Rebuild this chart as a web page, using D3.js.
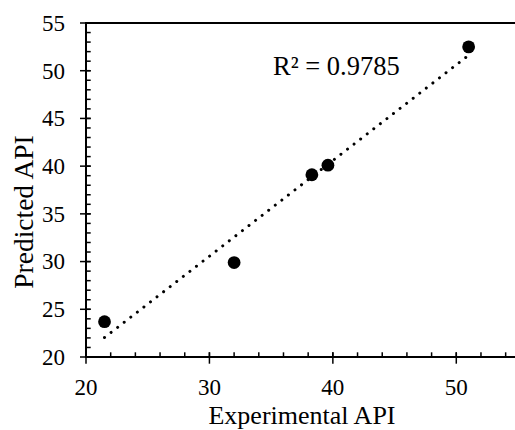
<!DOCTYPE html>
<html>
<head>
<meta charset="utf-8">
<script src="https://cdn.jsdelivr.net/npm/d3@7"></script>
<style>
  body { margin: 0; background: #fff; }
  svg { display: block; }
</style>
</head>
<body>
<script>
// data
const experimental = [21.5, 32.0, 38.3, 39.6, 51.0];
const predicted = [23.7, 29.9, 39.1, 40.1, 52.5];
const xMajorTicks = [20, 30, 40, 50];
const xMinorTicks = d3.range(20, 55, 2);
const yMajorTicks = [20, 25, 30, 35, 40, 45, 50, 55];
const yMinorTicks = d3.range(20, 56, 1);
const r2Label = "R² = 0.9785";

// layout
const width = 515;
const height = 430;
const plotLeft = 86, plotRight = 518, plotTop = 23, plotBottom = 357;
const serif = '"Liberation Serif", "Times New Roman", Times, serif';

const x = d3.scaleLinear().domain([20, 55]).range([plotLeft, plotRight]);
const y = d3.scaleLinear().domain([20, 55]).range([plotBottom, plotTop]);

const svg = d3.select("body").append("svg")
  .attr("width", width)
  .attr("height", height)
  .style("font-family", serif);

// frame (right side falls off the picture)
svg.append("rect")
  .attr("x", plotLeft).attr("y", plotTop)
  .attr("width", plotRight - plotLeft).attr("height", plotBottom - plotTop)
  .attr("fill", "none").attr("stroke", "#000").attr("stroke-width", 2);

// x ticks: minor ones point inward, major ones cross the axis
const xAxis = svg.append("g").attr("stroke", "#000").attr("stroke-width", 1.5);
xAxis.selectAll(".minor")
  .data(xMinorTicks)
  .join("line")
  .attr("class", "minor")
  .attr("x1", d => x(d)).attr("x2", d => x(d))
  .attr("y1", plotBottom).attr("y2", plotBottom - 4.7);
xAxis.selectAll(".major")
  .data(xMajorTicks)
  .join("line")
  .attr("class", "major")
  .attr("x1", d => x(d)).attr("x2", d => x(d))
  .attr("y1", plotBottom - 4.7).attr("y2", plotBottom + 6.7);
svg.append("g")
  .selectAll("text")
  .data(xMajorTicks)
  .join("text")
  .attr("x", d => x(d))
  .attr("y", 395)
  .attr("text-anchor", "middle")
  .style("font-size", "23px")
  .text(d => d);

// y ticks
const yAxis = svg.append("g").attr("stroke", "#000").attr("stroke-width", 1.5);
yAxis.selectAll(".minor")
  .data(yMinorTicks)
  .join("line")
  .attr("class", "minor")
  .attr("y1", d => y(d)).attr("y2", d => y(d))
  .attr("x1", plotLeft).attr("x2", plotLeft + 4.7);
yAxis.selectAll(".major")
  .data(yMajorTicks)
  .join("line")
  .attr("class", "major")
  .attr("y1", d => y(d)).attr("y2", d => y(d))
  .attr("x1", plotLeft - 6).attr("x2", plotLeft + 4.7);
svg.append("g")
  .selectAll("text")
  .data(yMajorTicks)
  .join("text")
  .attr("x", 65)
  .attr("y", d => y(d) + 7.8)
  .attr("text-anchor", "end")
  .style("font-size", "23px")
  .text(d => d);

// linear trendline (least squares) drawn dotted
const mx = d3.mean(experimental), my = d3.mean(predicted);
const sxy = d3.sum(experimental, (v, i) => (v - mx) * (predicted[i] - my));
const sxx = d3.sum(experimental, v => (v - mx) * (v - mx));
const slope = sxy / sxx, intercept = my - slope * mx;
const xExt = d3.extent(experimental);

svg.append("line")
  .attr("x1", x(xExt[0])).attr("y1", y(slope * xExt[0] + intercept))
  .attr("x2", x(xExt[1])).attr("y2", y(slope * xExt[1] + intercept))
  .attr("stroke", "#000")
  .attr("stroke-width", 3)
  .attr("stroke-linecap", "round")
  .attr("stroke-dasharray", "0.01 8.3");

// points
svg.append("g")
  .selectAll("circle")
  .data(experimental)
  .join("circle")
  .attr("cx", d => x(d))
  .attr("cy", (d, i) => y(predicted[i]))
  .attr("r", 6.4)
  .attr("fill", "#000");

// R² label
svg.append("text")
  .attr("x", 273).attr("y", 75)
  .style("font-size", "26.5px")
  .text(r2Label);

// axis titles
svg.append("text")
  .attr("x", (plotLeft + plotRight) / 2).attr("y", 424)
  .attr("text-anchor", "middle")
  .style("font-size", "26px")
  .text("Experimental API");

svg.append("text")
  .attr("transform", "translate(33,212) rotate(-90)")
  .attr("text-anchor", "middle")
  .style("font-size", "27.5px")
  .text("Predicted API");
</script>
</body>
</html>
